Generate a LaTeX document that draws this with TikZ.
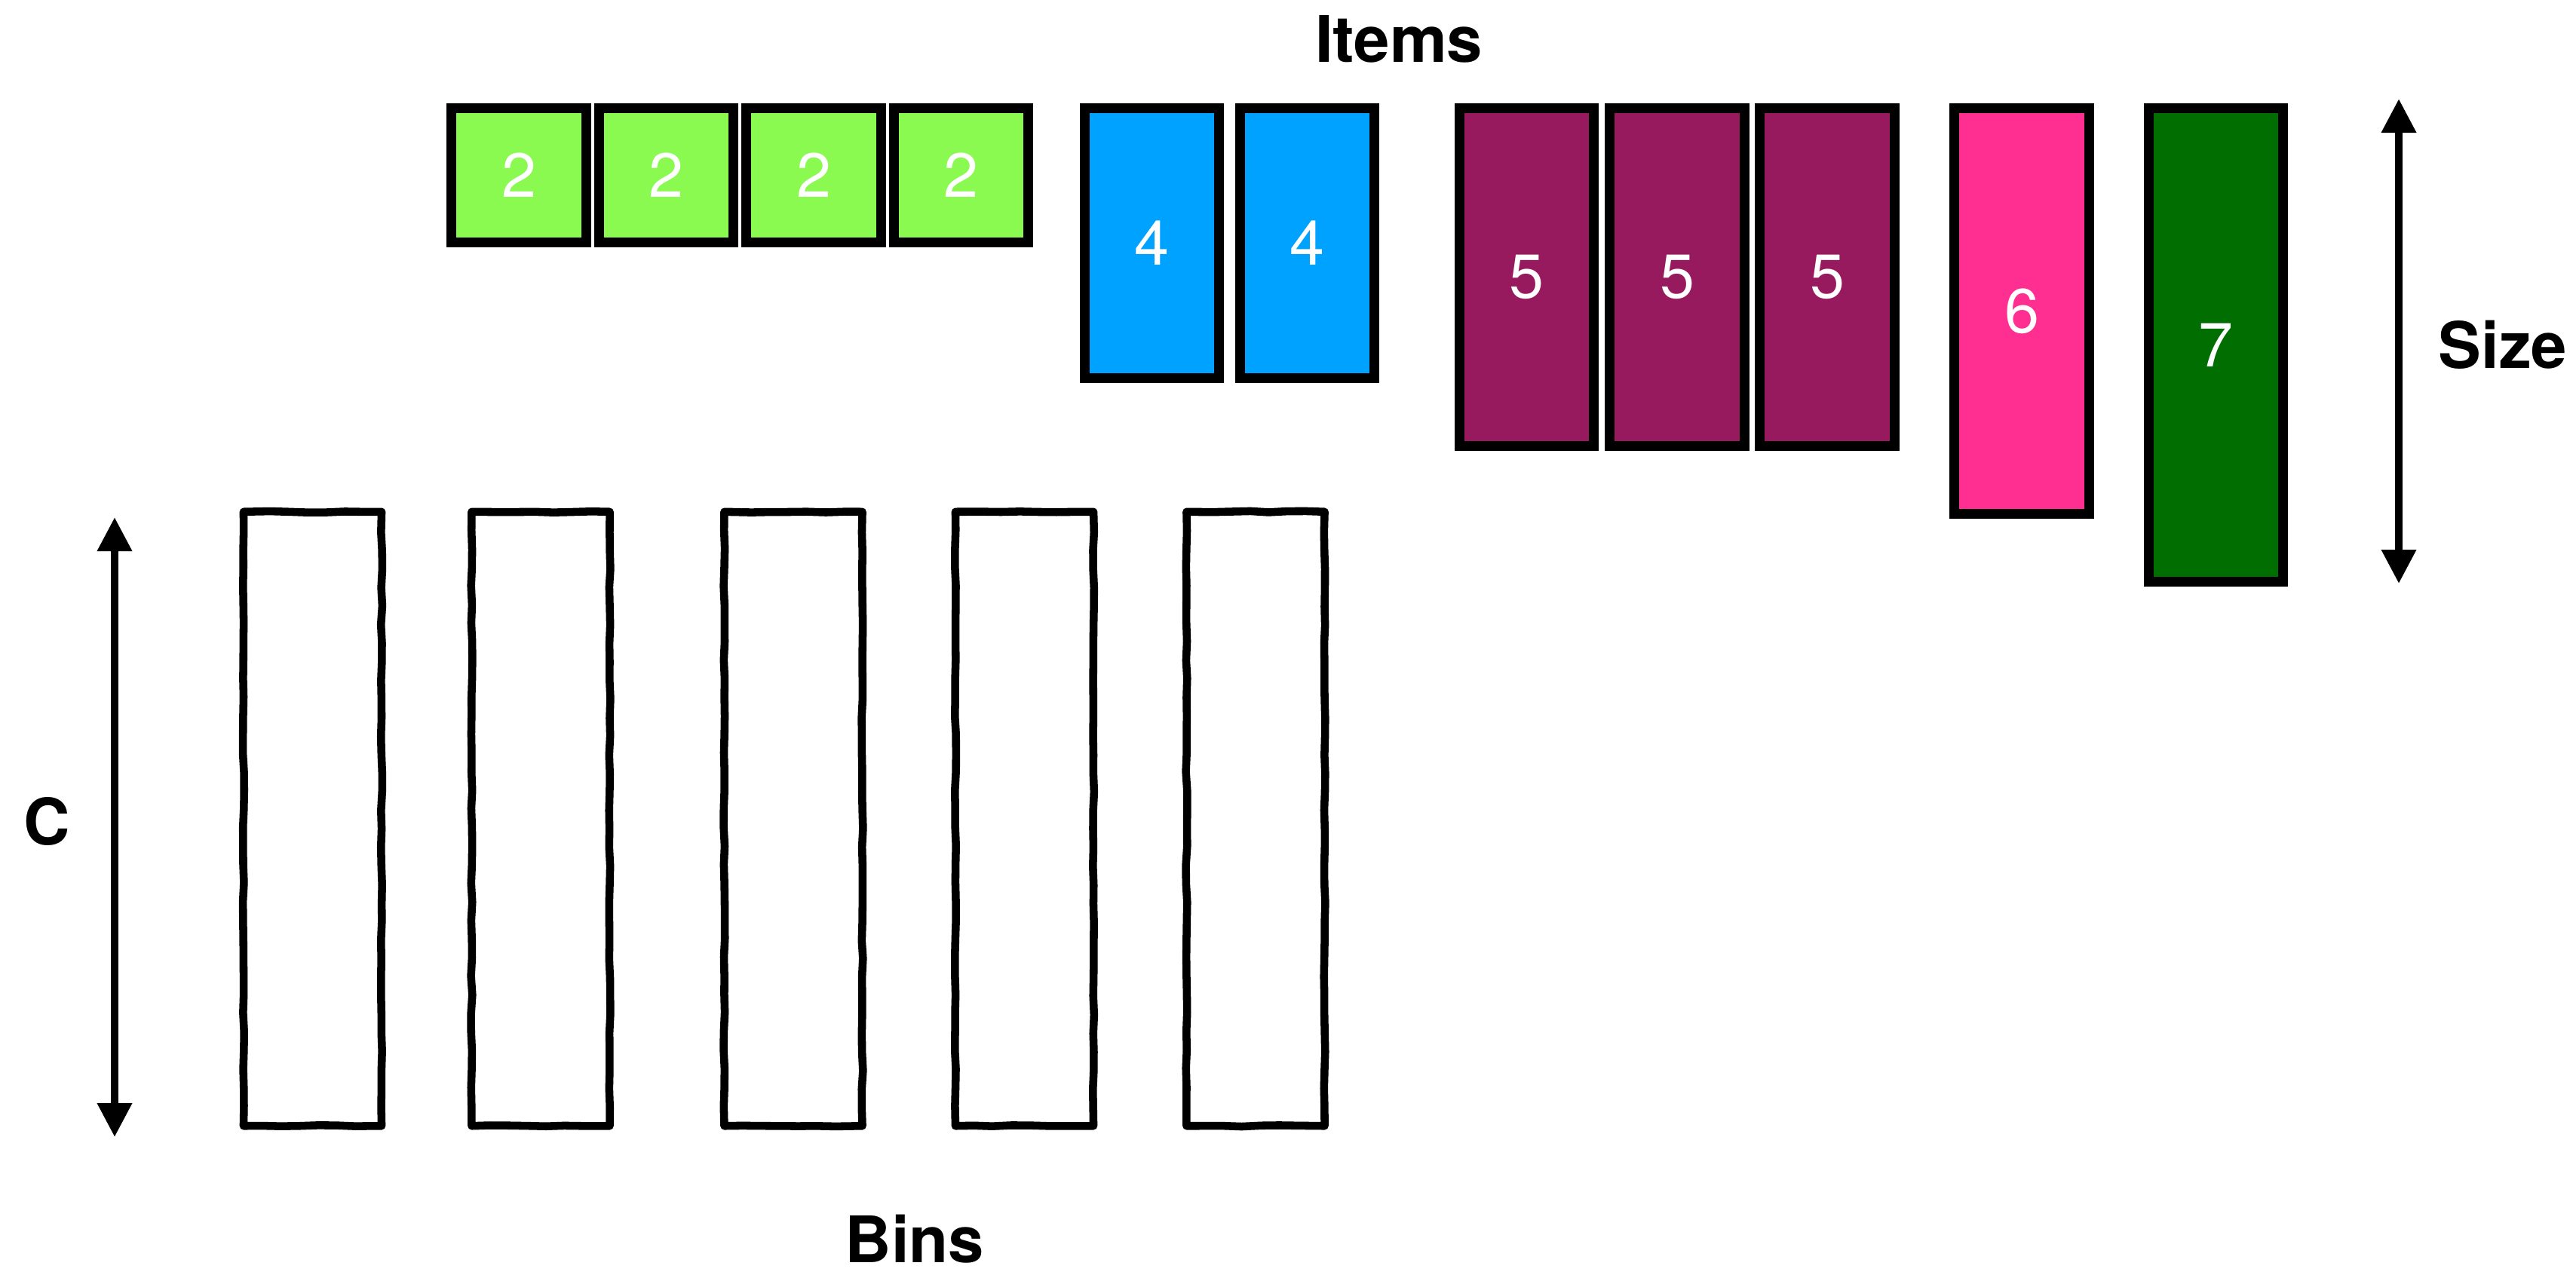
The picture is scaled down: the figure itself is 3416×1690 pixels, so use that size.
\documentclass[tikz,border=0pt]{standalone}
\usepackage{fontspec}
\setmainfont{TeX Gyre Heros}
\usetikzlibrary{arrows.meta,decorations.pathmorphing}
\definecolor{itemlime}{HTML}{8AFA50}
\definecolor{itemblue}{HTML}{00A2FF}
\definecolor{itemplum}{HTML}{981A5E}
\definecolor{itempink}{HTML}{FF2F92}
\definecolor{itemfern}{HTML}{006E00}
\tikzset{
  item/.style={rectangle,draw=black,line width=3.7pt,text=white,font=\fontsize{23.5}{28}\selectfont,minimum width=1.78cm,inner sep=0pt},
  bin/.style={rectangle,draw=black,line width=3pt,line join=round,minimum width=1.83cm,minimum height=8.14cm,inner sep=0pt,decorate,decoration={random steps,segment length=7pt,amplitude=0.25pt}},
  heading/.style={font=\fontsize{24.2}{29}\selectfont\bfseries,inner sep=0pt},
  arrow/.style={{Triangle[width=12.5pt,length=12.8pt]}-{Triangle[width=12.5pt,length=12.8pt]},line width=2.85pt}
}
\pgfmathsetseed{7}

\begin{document}
\begin{tikzpicture}[x=0.01cm,y=-0.01cm]
  \useasboundingbox (0,0) rectangle (3416,1690);

  % items, one unit of size is 90px high
  \node[heading,anchor=base] (items) at (1855,82) {Items};
  \node[item,fill=itemlime,minimum height=1.78cm] (two1) at (688,232.5) {2};
  \node[item,fill=itemlime,minimum height=1.78cm] (two2) at (883.5,232.5) {2};
  \node[item,fill=itemlime,minimum height=1.78cm] (two3) at (1079,232.5) {2};
  \node[item,fill=itemlime,minimum height=1.78cm] (two4) at (1274.5,232.5) {2};
  \node[item,fill=itemblue,minimum height=3.58cm] (four1) at (1527.5,322.5) {4};
  \node[item,fill=itemblue,minimum height=3.58cm] (four2) at (1733.5,322.5) {4};
  \node[item,fill=itemplum,minimum height=4.48cm] (five1) at (2024.5,367.5) {5};
  \node[item,fill=itemplum,minimum height=4.48cm] (five2) at (2224,367.5) {5};
  \node[item,fill=itemplum,minimum height=4.48cm] (five3) at (2423,367.5) {5};
  \node[item,fill=itempink,minimum height=5.38cm] (six) at (2681,412.5) {6};
  \node[item,fill=itemfern,minimum height=6.28cm] (seven) at (2938.5,457.5) {7};

  \coordinate (sizetop) at (3181,131);
  \coordinate (sizebot) at (3181,774);
  \draw[arrow] (sizetop) -- (sizebot);
  \node[heading,anchor=base west] (size) at (3233,488) {Size};

  % bins
  \coordinate (captop) at (152,686);
  \coordinate (capbot) at (152,1508);
  \draw[arrow] (captop) -- (capbot);
  \node[heading,anchor=base] (cap) at (62,1120) {C};

  \node[bin] (bin1) at (414.5,1086) {};
  \node[bin] (bin2) at (717,1086) {};
  \node[bin] (bin3) at (1052,1086) {};
  \node[bin] (bin4) at (1358.5,1086) {};
  \node[bin] (bin5) at (1665,1086) {};
  \node[heading,anchor=base] (bins) at (1213,1674) {Bins};
\end{tikzpicture}
\end{document}
